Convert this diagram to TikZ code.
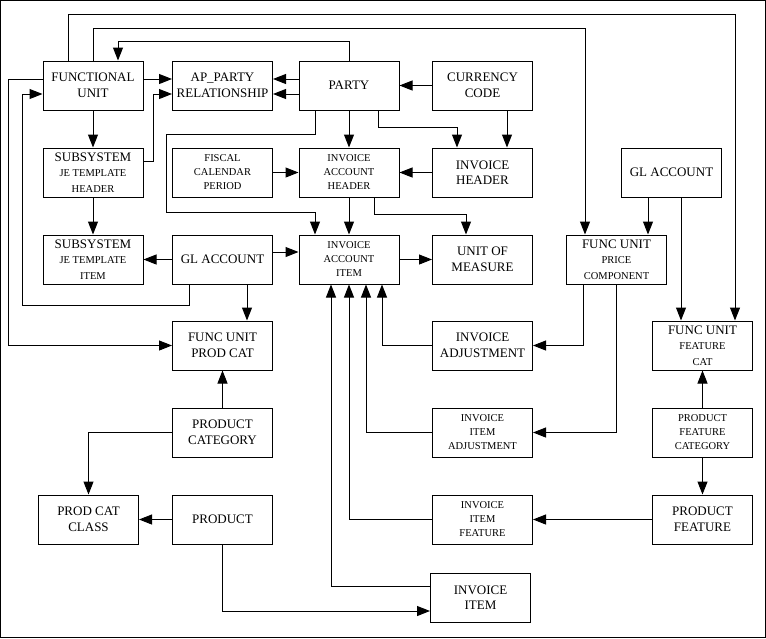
\documentclass[tikz,border=0pt]{standalone}
\usepackage{fontspec}
\setmainfont{Liberation Serif}
\usetikzlibrary{arrows.meta}
\newcommand{\gtexte}{\fontsize{13}{15.5}\selectfont}
\newcommand{\ptexte}{\fontsize{10.5}{14}\selectfont}

\begin{document}
\begin{tikzpicture}[x=1pt, y=-1pt, line width=1pt,
    boite/.style={draw, minimum width=100pt, minimum height=49pt, inner sep=0pt, align=center, font=\gtexte},
    fl/.style={-{Triangle[length=13pt, width=10pt]}}]
    \useasboundingbox (0,0) rectangle (766,638);
    \draw (0.5,0.5) rectangle (765.5,637.5);
    % première rangée
    \node[boite] (fu) at (93,85.5) {FUNCTIONAL\\UNIT};
    \node[boite] (ap) at (222.5,85.5) {AP\_PARTY\\RELATIONSHIP};
    \node[boite] (party) at (349,85.5) {PARTY};
    \node[boite] (cc) at (482.5,85.5) {CURRENCY\\CODE};
    % deuxième rangée
    \node[boite] (ssh) at (93,172.5) {SUBSYSTEM\\{\ptexte JE TEMPLATE}\\{\ptexte HEADER}};
    \node[boite, font=\ptexte] (fcp) at (222.5,172.5) {FISCAL\\CALENDAR\\PERIOD};
    \node[boite, font=\ptexte] (iah) at (349,172.5) {INVOICE\\ACCOUNT\\HEADER};
    \node[boite] (ih) at (482.5,172.5) {INVOICE\\HEADER};
    \node[boite] (glr) at (671.5,172.5) {GL ACCOUNT};
    % troisième rangée
    \node[boite] (ssi) at (93,259.5) {SUBSYSTEM\\{\ptexte JE TEMPLATE}\\{\ptexte ITEM}};
    \node[boite] (gl) at (222.5,259.5) {GL ACCOUNT};
    \node[boite, font=\ptexte] (iai) at (349,259.5) {INVOICE\\ACCOUNT\\ITEM};
    \node[boite] (uom) at (482.5,259.5) {UNIT OF\\MEASURE};
    \node[boite] (fupc) at (616.5,259.5) {FUNC UNIT\\{\ptexte PRICE}\\{\ptexte COMPONENT}};
    % quatrième rangée
    \node[boite] (fupcat) at (222.5,345.5) {FUNC UNIT\\PROD CAT};
    \node[boite] (ia) at (482.5,345.5) {INVOICE\\ADJUSTMENT};
    \node[boite] (fufc) at (702.5,345.5) {FUNC UNIT\\{\ptexte FEATURE}\\{\ptexte CAT}};
    % cinquième rangée
    \node[boite] (pc) at (222.5,432.5) {PRODUCT\\CATEGORY};
    \node[boite, font=\ptexte] (iia) at (482.5,432.5) {INVOICE\\ITEM\\ADJUSTMENT};
    \node[boite, font=\ptexte] (pfc) at (702.5,432.5) {PRODUCT\\FEATURE\\CATEGORY};
    % sixième rangée
    \node[boite] (pcc) at (88.5,519.5) {PROD CAT\\CLASS};
    \node[boite] (prod) at (222.5,519.5) {PRODUCT};
    \node[boite, font=\ptexte] (iif) at (482.5,519.5) {INVOICE\\ITEM\\FEATURE};
    \node[boite] (pf) at (702.5,519.5) {PRODUCT\\FEATURE};
    \node[boite] (ii) at (480.5,597.5) {INVOICE\\ITEM};
    % liaisons du haut
    \draw[fl] ([xshift=-25pt]fu.north) -- ++(0,-46) -| ([xshift=32.5pt]fufc.north);
    \draw[fl] (fu.north) -- ++(0,-32) -| ([xshift=-31.5pt]fupc.north);
    \draw[fl] (party.north) -- ++(0,-19) -| ([xshift=25pt]fu.north);
    \draw[fl] ([yshift=6.5pt]fu.east) -- ([yshift=6.5pt]ap.west);
    \draw[fl] ([yshift=6.5pt]party.west) -- ([yshift=6.5pt]ap.east);
    \draw[fl] ([yshift=-8.5pt]party.west) -- ([yshift=-8.5pt]ap.east);
    \draw[fl] ([yshift=11.5pt]ssh.east) -- ++(10,0) |- ([yshift=-8.5pt]ap.west);
    \draw[fl] (cc.west) -- (party.east);
    \draw[fl] ([xshift=24.5pt]cc.south) -- ([xshift=24.5pt]ih.north);
    % liaisons de gauche
    \draw[fl] ([yshift=6.5pt]fu.west) -- ++(-34,0) |- (fupcat.west);
    \draw[fl] ([xshift=-33.5pt]gl.south) -- ++(0,21) -- ++(-167,0) |- ([yshift=-8.5pt]fu.west);
    \draw[fl] (fu.south) -- (ssh.north);
    \draw[fl] (ssh.south) -- (ssi.north);
    \draw[fl] (gl.west) -- (ssi.east);
    \draw[fl] ([yshift=7.5pt]gl.east) -- ([yshift=7.5pt]iai.west);
    \draw[fl] ([xshift=24.5pt]gl.south) -- ([xshift=24.5pt]fupcat.north);
    \draw[fl] (pc.north) -- (fupcat.south);
    \draw[fl] (pc.west) -| (pcc.north);
    \draw[fl] (prod.west) -- (pcc.east);
    \draw[fl] (prod.south) |- ([yshift=-13.5pt]ii.west);
    % liaisons du milieu
    \draw[fl] (party.south) -- (iah.north);
    \draw[fl] ([xshift=-34pt]party.south) -- ++(0,24) -- ++(-149,0) -- ++(0,78) -| ([xshift=-34pt]iai.north);
    \draw[fl] ([xshift=29pt]party.south) -- ++(0,17) -| ([xshift=-25.5pt]ih.north);
    \draw[fl] (ih.west) -- (iah.east);
    \draw[fl] (fcp.east) -- (iah.west);
    \draw[fl] (iah.south) -- (iai.north);
    \draw[fl] ([xshift=25pt]iah.south) -- ++(0,17) -| ([xshift=-16.5pt]uom.north);
    \draw[fl] (iai.east) -- (uom.west);
    % liaisons de droite
    \draw[fl] ([xshift=-23.5pt]glr.south) -- ([xshift=31.5pt]fupc.north);
    \draw[fl] ([xshift=9.5pt]glr.south) -- ([xshift=-21.5pt]fufc.north);
    \draw[fl] ([xshift=-33.5pt]fupc.south) |- (ia.east);
    \draw[fl] (fupc.south) |- (iia.east);
    \draw[fl] (pfc.north) -- (fufc.south);
    \draw[fl] (pfc.south) -- (pf.north);
    \draw[fl] (pf.west) -- (iif.east);
    % vers l'article de compte
    \draw[fl] (ia.west) -| ([xshift=33pt]iai.south);
    \draw[fl] (iia.west) -| ([xshift=17pt]iai.south);
    \draw[fl] (iif.west) -| (iai.south);
    \draw[fl] ([yshift=11.5pt]ii.west) -| ([xshift=-18pt]iai.south);
\end{tikzpicture}
\end{document}
